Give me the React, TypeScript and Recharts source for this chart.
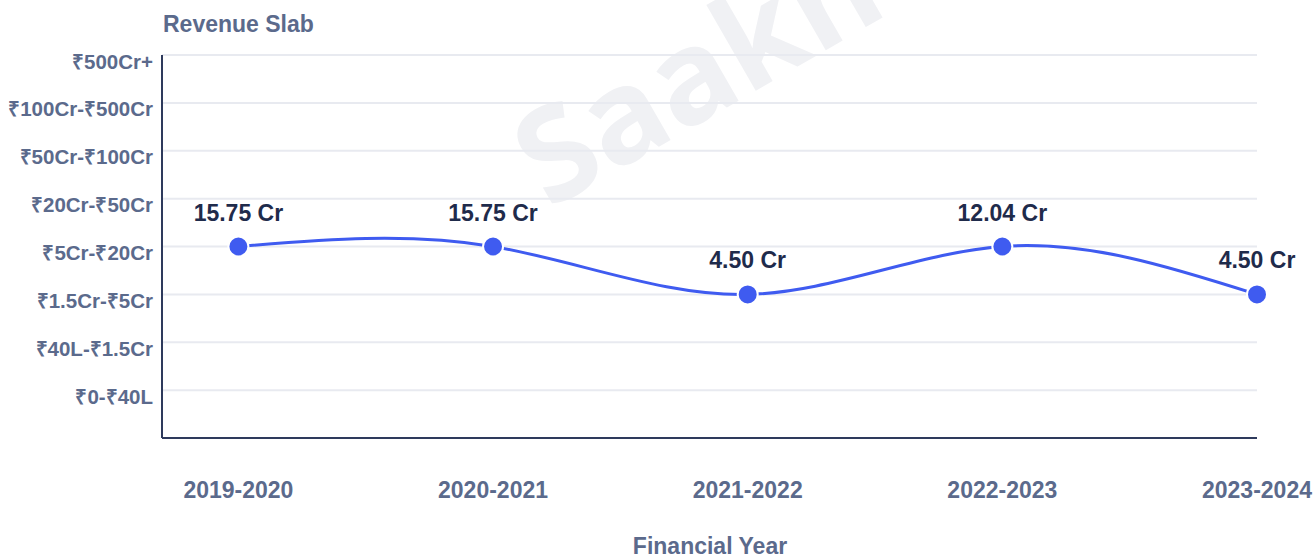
import { LineChart, Line, XAxis, YAxis, CartesianGrid, LabelList } from "recharts";

const years = ["2019-2020", "2020-2021", "2021-2022", "2022-2023", "2023-2024"];
const revenueCr = [15.75, 15.75, 4.5, 12.04, 4.5];
// position of each year's revenue in the slab list below
const slabIndex = [3, 3, 2, 3, 2];
const slabs = [
  "₹0-₹40L",
  "₹40L-₹1.5Cr",
  "₹1.5Cr-₹5Cr",
  "₹5Cr-₹20Cr",
  "₹20Cr-₹50Cr",
  "₹50Cr-₹100Cr",
  "₹100Cr-₹500Cr",
  "₹500Cr+",
];

const data = years.map((year, i) => ({
  idx: i,
  year,
  slab: slabIndex[i],
  revenue: revenueCr[i],
}));

const FONT = "'Liberation Sans', Arial, sans-serif";
const MUTED = "#5b6a8c";
const DARK = "#1f2b4b";
const AXIS = "#2e3a5c";
const BLUE = "#3f5bf0";

const SlabTick = ({ x, y, payload }: any) => (
  <text
    x={x - 1}
    y={y + 6}
    textAnchor="end"
    dominantBaseline="central"
    fontFamily={FONT}
    fontWeight={700}
    fontSize={20.5}
    fill={MUTED}
  >
    {slabs[payload.value]}
  </text>
);

const YearTick = ({ x, y, payload }: any) => (
  <text
    x={x}
    y={y + 44}
    textAnchor="middle"
    dominantBaseline="central"
    fontFamily={FONT}
    fontWeight={700}
    fontSize={23}
    fill={MUTED}
  >
    {years[payload.value]}
  </text>
);

export default function App() {
  return (
    <div
      style={{
        position: "absolute",
        left: 0,
        top: 0,
        width: 1313,
        height: 556,
        background: "#fff",
        overflow: "hidden",
        fontFamily: FONT,
      }}
    >
      {/* watermark */}
      <div
        style={{
          position: "absolute",
          left: 695,
          top: 68,
          transform: "translate(-50%, -50%) rotate(-30deg)",
          fontFamily: "'Open Sans', sans-serif",
          fontWeight: 700,
          fontSize: 130,
          lineHeight: 1,
          color: "#f0f1f4",
          whiteSpace: "nowrap",
        }}
      >
        Saakh
      </div>
      <div
        style={{
          position: "absolute",
          left: 163,
          top: 24,
          transform: "translateY(-50%)",
          fontWeight: 700,
          fontSize: 23,
          color: MUTED,
          whiteSpace: "nowrap",
        }}
      >
        Revenue Slab
      </div>
      <div
        style={{
          position: "absolute",
          left: 710,
          top: 546,
          transform: "translate(-50%, -50%)",
          fontWeight: 700,
          fontSize: 23,
          lineHeight: 1,
          color: MUTED,
          whiteSpace: "nowrap",
        }}
      >
        Financial Year
      </div>
      <div style={{ position: "absolute", left: 0, top: 0 }}>
        <LineChart
          width={1313}
          height={556}
          data={data}
          margin={{ top: 55, right: 56, left: 0, bottom: 58 }}
        >
          <CartesianGrid stroke="#e8eaf0" strokeWidth={2} vertical={false} />
          <XAxis
            dataKey="idx"
            type="number"
            domain={[-0.3, 4]}
            ticks={[0, 1, 2, 3, 4]}
            height={60}
            axisLine={{ stroke: AXIS, strokeWidth: 2 }}
            tickLine={false}
            tick={<YearTick />}
            interval={0}
          />
          <YAxis
            type="number"
            domain={[-1, 7]}
            ticks={[0, 1, 2, 3, 4, 5, 6, 7]}
            width={162}
            axisLine={{ stroke: AXIS, strokeWidth: 2 }}
            tickLine={false}
            tick={<SlabTick />}
            interval={0}
          />
          <Line
            type="natural"
            dataKey="slab"
            stroke={BLUE}
            strokeWidth={3}
            dot={{ r: 10, fill: BLUE, stroke: "#fff", strokeWidth: 2 }}
            activeDot={false}
            isAnimationActive={false}
          >
            <LabelList
              dataKey="revenue"
              position="top"
              offset={26}
              formatter={(v: any) => `${Number(v).toFixed(2)} Cr`}
              style={{ fontFamily: FONT, fontWeight: 700, fontSize: 23, fill: DARK }}
            />
          </Line>
        </LineChart>
      </div>
    </div>
  );
}
